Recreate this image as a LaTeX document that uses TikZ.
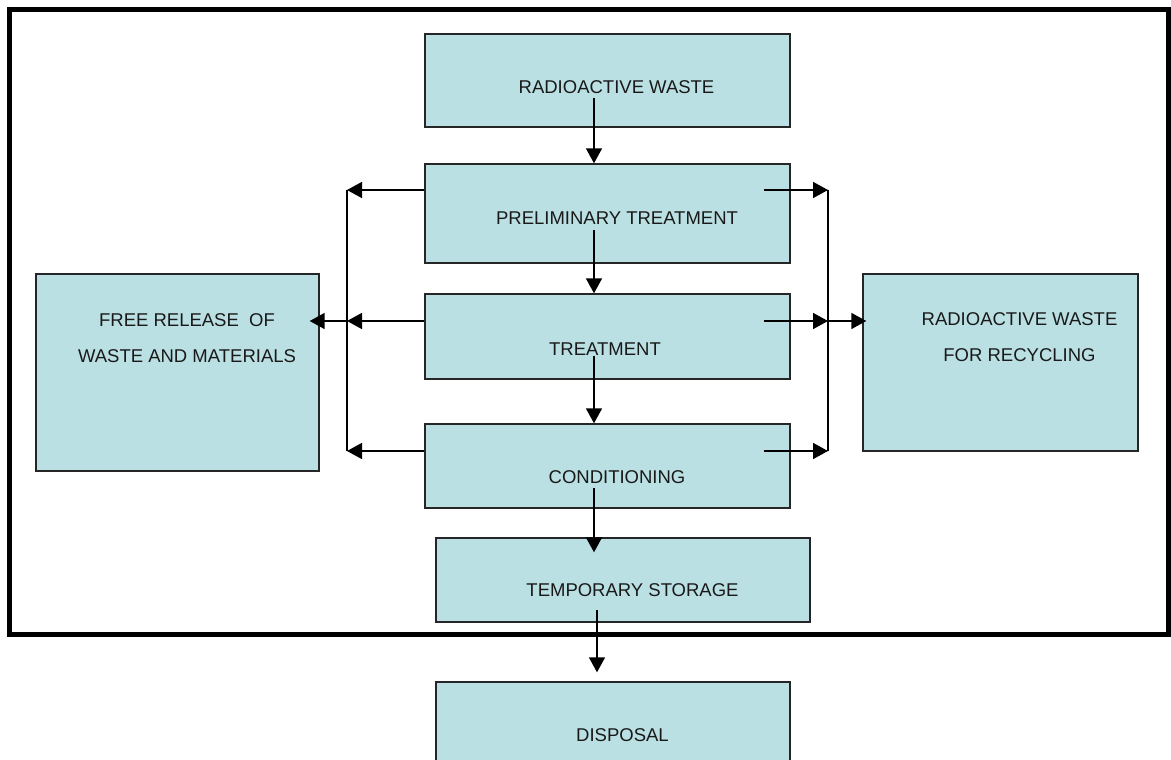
\documentclass[tikz,border=0pt]{standalone}
\usepackage{fontspec}
\setmainfont{Liberation Sans}
\usepackage{xcolor}
\usetikzlibrary{arrows.meta}
\definecolor{boxfill}{RGB}{187,224,227}

\begin{document}
\begin{tikzpicture}[
  x=1pt,y=-1pt,
  box/.style={draw=black!85,line width=1.4pt,fill=boxfill,minimum width=365pt,inner sep=0pt},
  lbl/.style={font=\fontsize{18.5}{36}\selectfont,align=center,inner sep=0pt,text=black!90},
  arrow/.style={-{Triangle[length=15pt,width=16pt]},line width=1.6pt},
  frame/.style={line width=5pt}
]
\useasboundingbox (0,0) rectangle (1171,760);
\draw[frame] (9.5,10) rectangle (1168,634.5);
% process boxes
\node[box,minimum height=93pt] (waste) at (607.5,80.5) {};
\node[box,minimum height=99pt] (prelim) at (607.5,213.5) {};
\node[box,minimum height=85pt] (treat) at (607.5,336.5) {};
\node[box,minimum height=84pt] (cond) at (607.5,466) {};
\node[box,minimum height=84pt,minimum width=374pt] (temp) at (623,580) {};
\node[box,minimum height=88pt,minimum width=354pt] (disp) at (613,726) {};
\node[box,minimum height=197pt,minimum width=283pt] (free) at (177.5,372.5) {};
\node[box,minimum height=177pt,minimum width=275pt] (recyc) at (1000.5,362.5) {};
% labels
\node[lbl] (waste-t) at (616.5,87) {RADIOACTIVE WASTE};
\node[lbl] (prelim-t) at (617,218) {PRELIMINARY TREATMENT};
\node[lbl] (treat-t) at (605,349) {TREATMENT};
\node[lbl] (cond-t) at (617,477) {CONDITIONING};
\node[lbl] (temp-t) at (632.5,590) {TEMPORARY STORAGE};
\node[lbl] (disp-t) at (622.5,735) {DISPOSAL};
\node[lbl] (free-t) at (187,338) {FREE RELEASE\ \ OF\\WASTE AND MATERIALS};
\node[lbl] (recyc-t) at (1019.5,337.5) {RADIOACTIVE WASTE\\FOR RECYCLING};
% main line
\draw[arrow] ([shift={(-13.5,17.5)}]waste.center) -- ([xshift=-13.5pt]prelim.north);
\draw[arrow] ([shift={(-13.5,16.5)}]prelim.center) -- ([xshift=-13.5pt]treat.north);
\draw[arrow] ([shift={(-13.5,19.5)}]treat.center) -- ([xshift=-13.5pt]cond.north);
\draw[arrow] ([shift={(-13.5,22)}]cond.center) -- ([shift={(-29,15)}]temp.north);
\draw[arrow] ([shift={(-26,30)}]temp.center) -- ([shift={(-16,-9)}]disp.north);
% side branches
\coordinate (lft-top) at (347,190);
\coordinate (lft-mid) at (347,321);
\coordinate (lft-bot) at (347,451);
\coordinate (rgt-top) at (828,190);
\coordinate (rgt-mid) at (828,321);
\coordinate (rgt-bot) at (828,451);
\draw[line width=1.6pt] (lft-top) -- (lft-bot);
\draw[line width=1.6pt] (rgt-top) -- (rgt-bot);
\draw[arrow] ([shift={(0,-23.5)}]prelim.west) -- (lft-top);
\draw[arrow] ([shift={(0,-15.5)}]treat.west) -- (lft-mid);
\draw[arrow] ([shift={(0,-15)}]cond.west) -- (lft-bot);
\draw[arrow] (lft-mid) -- ([shift={(-10,-51.5)}]free.east);
\draw[arrow] ([shift={(-27,-23.5)}]prelim.east) -- (rgt-top);
\draw[arrow] ([shift={(-27,-15.5)}]treat.east) -- (rgt-mid);
\draw[arrow] ([shift={(-27,-15)}]cond.east) -- (rgt-bot);
\draw[arrow] (rgt-mid) -- ([shift={(4,-41.5)}]recyc.west);
\end{tikzpicture}
\end{document}
